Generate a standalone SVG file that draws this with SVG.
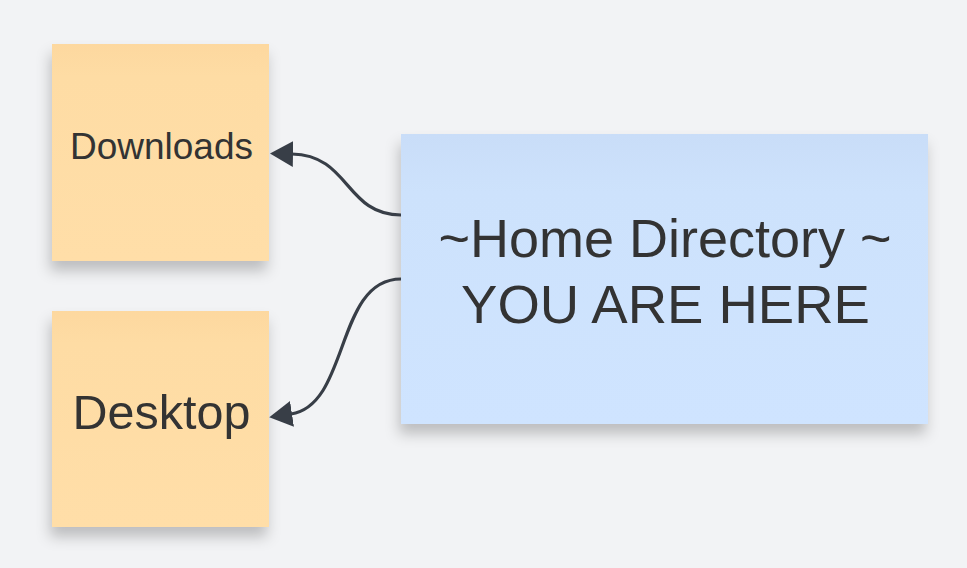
<svg xmlns="http://www.w3.org/2000/svg" width="967" height="568" viewBox="0 0 967 568">
<defs>
<filter id="sh" x="-20%" y="-20%" width="140%" height="150%">
<feDropShadow dx="-2" dy="10" stdDeviation="7" flood-color="#000" flood-opacity="0.22"/>
</filter>
<linearGradient id="yg" x1="0" y1="0" x2="0" y2="1">
<stop offset="0" stop-color="#fdd89f"/>
<stop offset="0.15" stop-color="#fedca4"/>
<stop offset="1" stop-color="#ffdea8"/>
</linearGradient>
<linearGradient id="bg" x1="0" y1="0" x2="0" y2="1">
<stop offset="0" stop-color="#c9ddf8"/>
<stop offset="0.2" stop-color="#cde2fc"/>
<stop offset="1" stop-color="#cfe4ff"/>
</linearGradient>
<marker id="ah" markerUnits="userSpaceOnUse" markerWidth="24" markerHeight="28" viewBox="0 0 24 28" refX="1" refY="14" orient="auto">
<path d="M0,1 L23,14 L0,27 z" fill="#383e47"/>
</marker>
</defs>
<style>
.txt{font-family:"Liberation Sans",Arial,sans-serif;fill:#333333;text-anchor:middle}
.conn{fill:none;stroke:#383e47;stroke-width:3.2}
</style>
<rect width="967" height="568" fill="#f2f3f5"/>
<g id="downloads">
<rect x="52" y="44" width="217" height="217" fill="url(#yg)" filter="url(#sh)"/>
<text class="txt" x="161.5" y="159" font-size="37">Downloads</text>
</g>
<g id="desktop">
<rect x="52" y="311" width="217" height="216" fill="url(#yg)" filter="url(#sh)"/>
<text class="txt" x="161.5" y="429" font-size="48.5">Desktop</text>
</g>
<g id="home">
<rect x="401" y="134" width="527" height="290" fill="url(#bg)" filter="url(#sh)"/>
<text class="txt" x="665" y="257" font-size="54">~Home Directory ~</text>
<text class="txt" x="665.5" y="323" font-size="54.5">YOU ARE HERE</text>
</g>
<g id="connectors">
<path class="conn" d="M401,215 C345,215 350,155 292,154" marker-end="url(#ah)"/>
<path class="conn" d="M401,279 C335,279 350,405 291,414" marker-end="url(#ah)"/>
</g>
</svg>
